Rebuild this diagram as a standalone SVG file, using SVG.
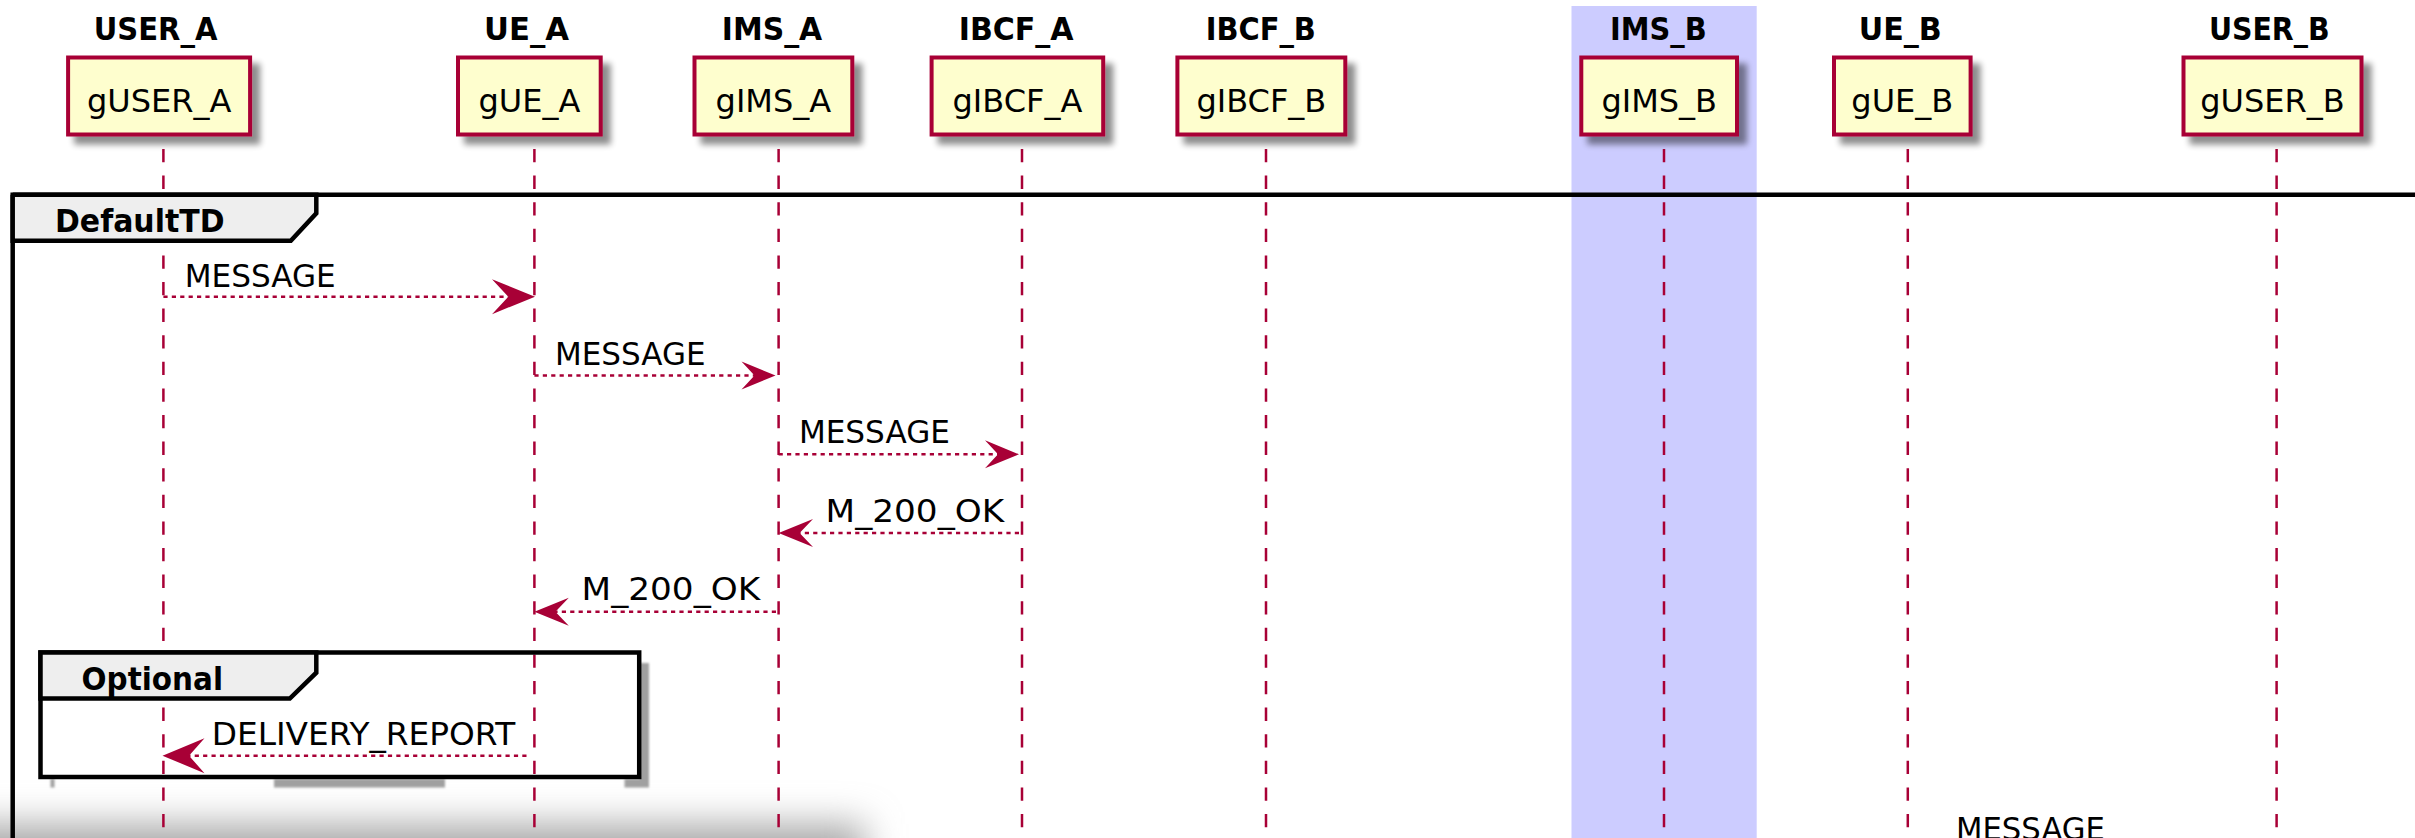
<svg xmlns="http://www.w3.org/2000/svg" width="2415" height="838" viewBox="0 0 2415 838">
<defs>
<style>
.title{font-family:"DejaVu Sans Condensed","DejaVu Sans",sans-serif;font-weight:bold;font-size:32px;fill:#000}
.plabel{font-family:"DejaVu Sans",sans-serif;font-size:32px;fill:#000;text-anchor:middle}
.msg{font-family:"DejaVu Sans",sans-serif;font-size:32px;fill:#000}
.pbox{fill:#FEFECE;stroke:#A80036;stroke-width:4}
.life{stroke:#A80036;stroke-width:2.5;stroke-dasharray:13.3 13.3;fill:none}
.arr{stroke:#A80036;stroke-width:2.5;stroke-dasharray:4.2 4.2;fill:none}
.head{fill:#A80036}
.frame{fill:none;stroke:#000;stroke-width:4.5}
.tab{fill:#EEEEEE;stroke:#000;stroke-width:4.5;stroke-linejoin:miter}
.shade{fill:#a0a0a0}
</style>
<filter id="sh" x="-20%" y="-20%" width="150%" height="160%">
<feGaussianBlur in="SourceAlpha" stdDeviation="3"/>
<feOffset dx="8" dy="8" result="o"/>
<feComponentTransfer><feFuncA type="linear" slope="0.45"/></feComponentTransfer>
<feMerge><feMergeNode/><feMergeNode in="SourceGraphic"/></feMerge>
</filter>
<filter id="blurBig" x="-20%" y="-50%" width="140%" height="200%">
<feGaussianBlur stdDeviation="18"/>
</filter>
<filter id="blurSmall" x="-50%" y="-50%" width="200%" height="200%">
<feGaussianBlur stdDeviation="1.2"/>
</filter>
</defs>

<g id="background">
<rect x="1571.5" y="6" width="185.2" height="840" fill="#CCCCFF"/>
<rect x="-60" y="824" width="925" height="200" fill="#a8a8a8" filter="url(#blurBig)"/>
</g>

<g id="lifelines">
<line class="life" x1="163.4" y1="149" x2="163.4" y2="838"/>
<line class="life" x1="534.4" y1="149" x2="534.4" y2="838"/>
<line class="life" x1="778.6" y1="149" x2="778.6" y2="838"/>
<line class="life" x1="1022" y1="149" x2="1022" y2="838"/>
<line class="life" x1="1266" y1="149" x2="1266" y2="838"/>
<line class="life" x1="1664" y1="149" x2="1664" y2="838"/>
<line class="life" x1="1907.8" y1="149" x2="1907.8" y2="838"/>
<line class="life" x1="2276.6" y1="149" x2="2276.6" y2="838"/>
</g>

<g id="frame-DefaultTD">
<path class="frame" d="M12.7,194.7 H2440 M12.7,194.7 V860"/>
<path class="tab" d="M12.7,194.7 H316.3 V213.3 L290.8,240.7 H12.7 Z"/>
<text class="title" x="55" y="231.7" textLength="169.5" lengthAdjust="spacingAndGlyphs">DefaultTD</text>
</g>

<g id="frame-Optional">
<g filter="url(#blurSmall)">
<rect class="shade" x="640" y="663" width="9" height="124"/>
<rect class="shade" x="624.5" y="779" width="24.5" height="8.5"/>
<rect class="shade" x="274" y="779" width="171" height="8.5"/>
<rect class="shade" x="50.5" y="779" width="4" height="8.5"/>
</g>
<rect class="frame" x="40.5" y="652.5" width="598.7" height="124.5"/>
<path class="tab" d="M40.5,652.5 H316.3 V672.7 L289.8,698.5 H40.5 Z"/>
<text class="title" x="81.6" y="690" textLength="141.4" lengthAdjust="spacingAndGlyphs">Optional</text>
</g>

<g id="USER_A">
<text class="title" x="93.8" y="40" textLength="123.6" lengthAdjust="spacingAndGlyphs">USER_A</text>
<rect class="pbox" x="68.1" y="57.5" width="182" height="77" filter="url(#sh)"/>
<text class="plabel" x="159.1" y="112">gUSER_A</text>
</g>
<g id="UE_A">
<text class="title" x="484" y="40" textLength="85" lengthAdjust="spacingAndGlyphs">UE_A</text>
<rect class="pbox" x="458" y="57.5" width="142.7" height="77" filter="url(#sh)"/>
<text class="plabel" x="529.4" y="112">gUE_A</text>
</g>
<g id="IMS_A">
<text class="title" x="721.8" y="40" textLength="100.4" lengthAdjust="spacingAndGlyphs">IMS_A</text>
<rect class="pbox" x="694.5" y="57.5" width="157.8" height="77" filter="url(#sh)"/>
<text class="plabel" x="773.4" y="112">gIMS_A</text>
</g>
<g id="IBCF_A">
<text class="title" x="958.8" y="40" textLength="114.8" lengthAdjust="spacingAndGlyphs">IBCF_A</text>
<rect class="pbox" x="931.6" y="57.5" width="171.6" height="77" filter="url(#sh)"/>
<text class="plabel" x="1017.4" y="112">gIBCF_A</text>
</g>
<g id="IBCF_B">
<text class="title" x="1205.7" y="40" textLength="110.2" lengthAdjust="spacingAndGlyphs">IBCF_B</text>
<rect class="pbox" x="1177.4" y="57.5" width="167.9" height="77" filter="url(#sh)"/>
<text class="plabel" x="1261.4" y="112">gIBCF_B</text>
</g>
<g id="IMS_B">
<text class="title" x="1610" y="40" textLength="96.7" lengthAdjust="spacingAndGlyphs">IMS_B</text>
<rect class="pbox" x="1581.3" y="57.5" width="155.7" height="77" filter="url(#sh)"/>
<text class="plabel" x="1659.2" y="112">gIMS_B</text>
</g>
<g id="UE_B">
<text class="title" x="1858.8" y="40" textLength="83" lengthAdjust="spacingAndGlyphs">UE_B</text>
<rect class="pbox" x="1834" y="57.5" width="136.6" height="77" filter="url(#sh)"/>
<text class="plabel" x="1902.3" y="112">gUE_B</text>
</g>
<g id="USER_B">
<text class="title" x="2208.9" y="40" textLength="120.7" lengthAdjust="spacingAndGlyphs">USER_B</text>
<rect class="pbox" x="2183.5" y="57.5" width="178" height="77" filter="url(#sh)"/>
<text class="plabel" x="2272.5" y="112">gUSER_B</text>
</g>

<g id="connectors">
<line class="arr" x1="163.4" y1="296.7" x2="508" y2="296.7"/>
<polygon class="head" points="535,296.7 492,279.2 508.3,296.7 492,314.2"/>
<text class="msg" x="184.7" y="286.7" textLength="151" lengthAdjust="spacingAndGlyphs">MESSAGE</text>

<line class="arr" x1="534.4" y1="375.5" x2="755" y2="375.5"/>
<polygon class="head" points="775.5,375.5 741.5,361.5 754.5,375.5 741.5,389.5"/>
<text class="msg" x="555" y="365" textLength="150.6" lengthAdjust="spacingAndGlyphs">MESSAGE</text>

<line class="arr" x1="778.6" y1="454.3" x2="998" y2="454.3"/>
<polygon class="head" points="1019,454.3 985,440.3 998,454.3 985,468.3"/>
<text class="msg" x="798.9" y="443.3" textLength="151" lengthAdjust="spacingAndGlyphs">MESSAGE</text>

<line class="arr" x1="1019" y1="533" x2="799" y2="533"/>
<polygon class="head" points="778.6,533 813,519 799.6,533 813,547"/>
<text class="msg" x="825.6" y="521.7" textLength="178.6" lengthAdjust="spacingAndGlyphs">M_200_OK</text>

<line class="arr" x1="776" y1="611.7" x2="555" y2="611.7"/>
<polygon class="head" points="534.4,611.7 568.8,597.7 555.4,611.7 568.8,625.7"/>
<text class="msg" x="581.6" y="600" textLength="178.6" lengthAdjust="spacingAndGlyphs">M_200_OK</text>

<line class="arr" x1="526.5" y1="755.7" x2="189" y2="755.7"/>
<polygon class="head" points="162.5,755.7 204.5,738.2 189,755.7 204.5,773.2"/>
<text class="msg" x="211.7" y="745" textLength="303.6" lengthAdjust="spacingAndGlyphs">DELIVERY_REPORT</text>

<text class="msg" x="1956" y="840" textLength="149" lengthAdjust="spacingAndGlyphs">MESSAGE</text>
</g>
</svg>
